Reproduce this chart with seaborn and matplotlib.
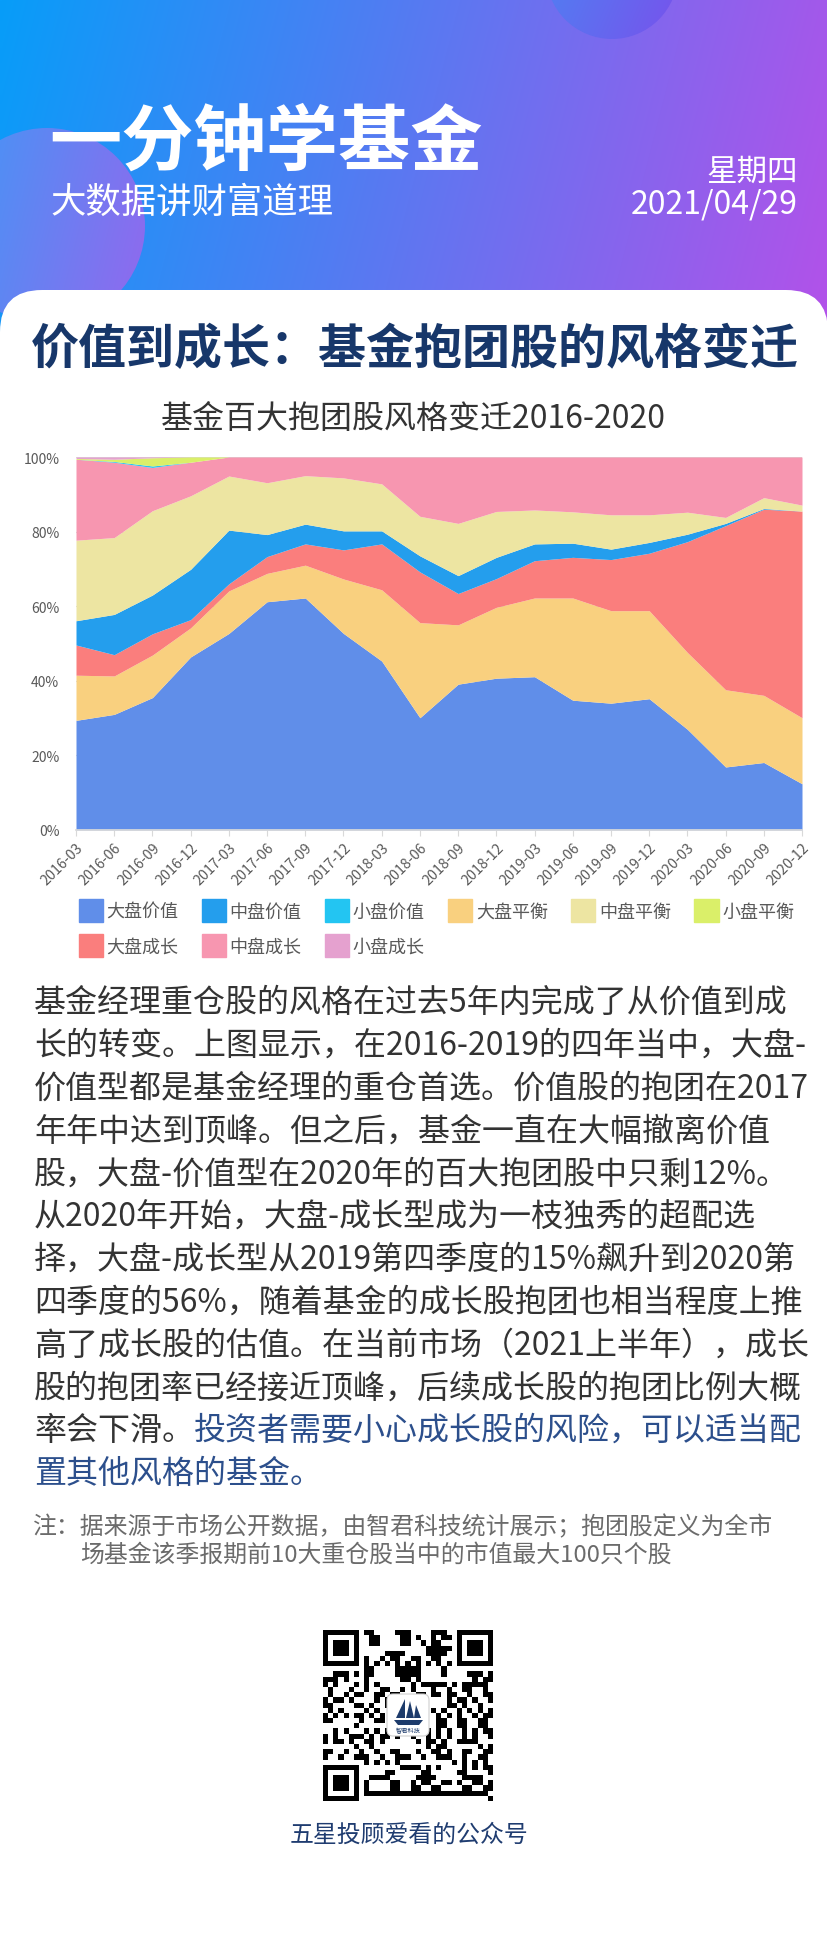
import numpy as np
import pandas as pd
import matplotlib
matplotlib.use("Agg")
import matplotlib.pyplot as plt
import matplotlib.patches as mpatches
from matplotlib.patches import FancyBboxPatch, Circle, Polygon
from matplotlib.colors import to_rgb
import seaborn as sns

# ---------------- data ----------------
quarters = ["2016-03", "2016-06", "2016-09", "2016-12", "2017-03", "2017-06", "2017-09",
            "2017-12", "2018-03", "2018-06", "2018-09", "2018-12", "2019-03", "2019-06",
            "2019-09", "2019-12", "2020-03", "2020-06", "2020-09", "2020-12"]

large_value  = [29.4, 31.0, 35.5, 46.4, 52.7, 61.2, 62.2, 52.7, 45.3, 30.1, 39.1, 40.7, 41.1, 34.8, 34.0, 35.2, 27.0, 16.9, 18.1, 12.4]
large_blend  = [12.1, 10.3, 11.4, 7.8, 11.4, 7.6, 8.8, 14.6, 19.1, 25.5, 15.9, 19.0, 21.1, 27.4, 24.8, 23.6, 20.6, 20.7, 18.0, 17.7]
large_growth = [8.1, 5.7, 5.7, 2.2, 1.9, 4.5, 5.7, 7.8, 12.3, 13.6, 8.4, 7.7, 10.0, 10.9, 13.7, 15.4, 29.7, 44.0, 49.9, 55.4]
mid_value    = [6.5, 10.8, 10.4, 13.5, 14.4, 5.9, 5.3, 5.1, 3.5, 4.3, 4.8, 5.7, 4.5, 3.8, 2.8, 2.9, 2.0, 0.6, 0.2, 0.0]
mid_blend    = [21.6, 20.6, 22.6, 19.7, 14.5, 13.9, 13.0, 14.2, 12.6, 10.6, 14.0, 12.3, 9.1, 8.4, 9.2, 7.4, 5.9, 1.6, 2.9, 1.6]
mid_growth   = [21.7, 20.2, 11.6, 9.0, 5.1, 6.9, 5.0, 5.6, 7.2, 15.9, 17.8, 14.6, 14.2, 14.7, 15.5, 15.5, 14.8, 16.2, 10.9, 12.9]
small_value  = [0.0, 0.2, 0.4, 0.0, 0, 0, 0, 0, 0, 0, 0, 0, 0, 0, 0, 0, 0, 0, 0, 0]
small_blend  = [0.2, 0.6, 2.2, 1.4, 0, 0, 0, 0, 0, 0, 0, 0, 0, 0, 0, 0, 0, 0, 0, 0]
small_growth = [0.4, 0.6, 0.2, 0.0, 0, 0, 0, 0, 0, 0, 0, 0, 0, 0, 0, 0, 0, 0, 0, 0]

legend_names = ["大盘价值", "中盘价值", "小盘价值", "大盘平衡", "中盘平衡", "小盘平衡",
                "大盘成长", "中盘成长", "小盘成长"]
series = {
    "大盘价值": large_value, "中盘价值": mid_value, "小盘价值": small_value,
    "大盘平衡": large_blend, "中盘平衡": mid_blend, "小盘平衡": small_blend,
    "大盘成长": large_growth, "中盘成长": mid_growth, "小盘成长": small_growth,
}
colors = {
    "大盘价值": "#608EE9", "中盘价值": "#249EED", "小盘价值": "#23C5F2",
    "大盘平衡": "#F9D07F", "中盘平衡": "#EDE5A2", "小盘平衡": "#DAEF69",
    "大盘成长": "#FA7E7D", "中盘成长": "#F796B0", "小盘成长": "#E5A1CF",
}
stack_order = ["大盘价值", "大盘平衡", "大盘成长", "中盘价值", "中盘平衡", "中盘成长",
               "小盘价值", "小盘平衡", "小盘成长"]
ytick_vals = [0, 20, 40, 60, 80, 100]

df = pd.DataFrame(series, index=quarters)

header_title = "一分钟学基金"
header_sub = "大数据讲财富道理"
weekday = "星期四"
date_str = "2021/04/29"
card_title = "价值到成长：基金抱团股的风格变迁"
chart_title = "基金百大抱团股风格变迁2016-2020"
para_lines = [
    "基金经理重仓股的风格在过去5年内完成了从价值到成",
    "长的转变。上图显示，在2016-2019的四年当中，大盘-",
    "价值型都是基金经理的重仓首选。价值股的抱团在2017",
    "年年中达到顶峰。但之后，基金一直在大幅撤离价值",
    "股，大盘-价值型在2020年的百大抱团股中只剩12%。",
    "从2020年开始，大盘-成长型成为一枝独秀的超配选",
    "择，大盘-成长型从2019第四季度的15%飙升到2020第",
    "四季度的56%，随着基金的成长股抱团也相当程度上推",
    "高了成长股的估值。在当前市场（2021上半年），成长",
    "股的抱团率已经接近顶峰，后续成长股的抱团比例大概",
]
para_mixed = ("率会下滑。", "投资者需要小心成长股的风险，可以适当配")
para_last = "置其他风格的基金。"
note_lines = ["注：据来源于市场公开数据，由智君科技统计展示；抱团股定义为全市",
              "场基金该季报期前10大重仓股当中的市值最大100只个股"]
footer = "五星投顾爱看的公众号"

# ---------------- style ----------------
sns.set_theme(style="white")
plt.rcParams['font.family'] = ['Noto Sans CJK SC', 'DejaVu Sans']
plt.rcParams['axes.unicode_minus'] = False

W, H = 828, 1958
fig = plt.figure(figsize=(W / 100, H / 100), dpi=100)
fig.patch.set_facecolor("white")

bg = fig.add_axes([0, 0, 1, 1])
bg.set_xlim(0, W)
bg.set_ylim(H, 0)
bg.axis("off")


def gradient_img(c1, c2, nx=200, ny=100, diag=0.2):
    a, b = np.array(to_rgb(c1)), np.array(to_rgb(c2))
    xs = np.linspace(0, 1, nx)[None, :]
    ys = np.linspace(0, 1, ny)[:, None]
    t = np.clip(xs * (1 - diag) + ys * diag, 0, 1)
    return a[None, None, :] * (1 - t[..., None]) + b[None, None, :] * t[..., None]


# header gradient
bg.imshow(gradient_img("#079DF9", "#B451E9", diag=0.1), extent=(0, W, 360, 0),
          aspect="auto", zorder=0, interpolation="bilinear")
# decorative circles
c_left = Circle((47, 227), 98, transform=bg.transData, fc="none", ec="none")
bg.add_patch(c_left)
im1 = bg.imshow(gradient_img("#3F99F6", "#9268EE", diag=0.2), extent=(-51, 145, 325, 129),
                aspect="auto", zorder=1, interpolation="bilinear")
im1.set_clip_path(c_left)
c_top = Circle((612, -26), 66, transform=bg.transData, fc="none", ec="none")
bg.add_patch(c_top)
im2 = bg.imshow(gradient_img("#4A86F3", "#7852EC", diag=0.3), extent=(546, 678, 40, -92),
                aspect="auto", zorder=1, interpolation="bilinear")
im2.set_clip_path(c_top)

# white card
card = FancyBboxPatch((0, 291), W, H, boxstyle="round,pad=0,rounding_size=42",
                      fc="white", ec="none", zorder=2)
bg.add_patch(card)

# header texts
bg.text(49, 143, header_title, fontsize=52, fontweight="bold", color="white",
        va="center", ha="left", zorder=3)
bg.text(50, 203, header_sub, fontsize=25.5, color="white", va="center", ha="left", zorder=3)
bg.text(798, 172, weekday, fontsize=22, color="white", va="center", ha="right", zorder=3)
bg.text(798, 205, date_str, fontsize=23, color="white", va="center", ha="right", zorder=3)

bg.text(415, 350, card_title, fontsize=34.6, fontweight="bold", color="#17376A",
        va="center", ha="center", zorder=3)
bg.text(413, 419, chart_title, fontsize=23, color="#333333", va="center", ha="center", zorder=3)

# paragraph
y0, dy = 1003, 42.8
for i, line in enumerate(para_lines):
    bg.text(34, y0 + i * dy, line, fontsize=23, color="#333333", va="center", ha="left", zorder=3)
t = bg.text(34, y0 + 10 * dy, para_mixed[0], fontsize=23, color="#333333", va="center",
            ha="left", zorder=3)
bg.annotate(para_mixed[1], xy=(1, 0), xycoords=t, va="bottom", ha="left",
            fontsize=23, color="#2C4F8C", zorder=3)
bg.text(34, y0 + 11 * dy, para_last, fontsize=23, color="#2C4F8C", va="center", ha="left", zorder=3)

# note
bg.text(33, 1527, note_lines[0], fontsize=17.2, color="#6B6B6B", va="center", ha="left", zorder=3)
bg.text(80, 1555, note_lines[1], fontsize=17.2, color="#6B6B6B", va="center", ha="left", zorder=3)

# QR-like decoration
n = 33
qr = np.zeros((n, n), dtype=int)
for i in range(n):
    for j in range(n):
        qr[i, j] = 1 if ((i * i * 3 + j * 7 + i * j * 5 + (i ^ j)) % 7) < 3 else 0
def finder(r, c):
    qr[max(r - 1, 0):r + 8, max(c - 1, 0):c + 8] = 0
    qr[r:r + 7, c:c + 7] = 1
    qr[r + 1:r + 6, c + 1:c + 6] = 0
    qr[r + 2:r + 5, c + 2:c + 5] = 1
finder(0, 0); finder(0, n - 7); finder(n - 7, 0)
qr[6, 8:n - 8] = [(k + 1) % 2 for k in range(8, n - 8)]
qr[8:n - 8, 6] = [(k + 1) % 2 for k in range(8, n - 8)]
bg.imshow(qr, cmap="gray_r", extent=(323, 493, 1802, 1631), interpolation="nearest",
          zorder=3, aspect="auto", vmin=0, vmax=1)
logo = FancyBboxPatch((387, 1695), 42, 42, boxstyle="round,pad=0,rounding_size=6",
                      fc="white", ec="#D0D0D0", lw=0.8, zorder=4)
bg.add_patch(logo)
navy = "#1D3B6B"
bg.add_patch(Polygon([(396, 1719), (405, 1700), (405, 1719)], fc=navy, ec="none", zorder=5))
bg.add_patch(Polygon([(406, 1719), (410, 1702), (414, 1719)], fc=navy, ec="none", zorder=5))
bg.add_patch(Polygon([(414, 1719), (416, 1706), (421, 1719)], fc=navy, ec="none", zorder=5))
bg.add_patch(Polygon([(394, 1721), (423, 1721), (419, 1726), (398, 1726)], fc=navy, ec="none", zorder=5))
bg.text(408, 1731, "智君科技", fontsize=4.5, color=navy, ha="center", va="center", zorder=5)

bg.text(409, 1835, footer, fontsize=17.2, color="#1F3C70", va="center", ha="center", zorder=3)

# ---------------- chart ----------------
L, R, T, B = 76, 802, 458, 831
ax = fig.add_axes([L / W, 1 - B / H, (R - L) / W, (B - T) / H])
ax.set_facecolor("none")
x = np.arange(len(quarters))
ax.stackplot(x, *[df[k].values for k in stack_order], colors=[colors[k] for k in stack_order],
             linewidth=0, zorder=2)
ax.set_xlim(0, len(quarters) - 1)
ax.set_ylim(0, 100)
ax.set_yticks(ytick_vals)
ax.set_yticklabels([f"{v}%" for v in ytick_vals])
ax.set_xticks(x)
ax.set_xticklabels(quarters, rotation=45, ha="right", rotation_mode="anchor")
ax.tick_params(axis="y", length=0, pad=12, labelsize=10, labelcolor="#595959")
ax.tick_params(axis="x", length=4, width=0.8, color="#D9D9D9", pad=3, labelsize=10.3,
               labelcolor="#595959", bottom=True)
sns.despine(ax=ax, left=True, top=True, right=True)
ax.spines["bottom"].set_color("#D9D9D9")
ax.spines["bottom"].set_zorder(3)
ax.grid(axis="y", color="#D9D9D9", lw=0.8)
ax.grid(axis="x", visible=False)
ax.set_axisbelow(True)

# legend: matplotlib fills column by column, so reorder to read row by row
ncol = 6
nrow = 2
order = []
for c in range(ncol):
    for r in range(nrow):
        k = r * ncol + c
        if k < len(legend_names):
            order.append(legend_names[k])
handles = [mpatches.Patch(color=colors[k], label=k) for k in order]
fig.legend(handles=handles, ncol=ncol, loc="upper left",
           bbox_to_anchor=(79 / W, 1 - 900 / H), frameon=False, fontsize=13,
           labelcolor="#595959", handlelength=1.33, handleheight=1.6, handletextpad=0.2,
           columnspacing=1.3, borderaxespad=0, borderpad=0, labelspacing=0.65)

fig.savefig("out.png", dpi=100)
